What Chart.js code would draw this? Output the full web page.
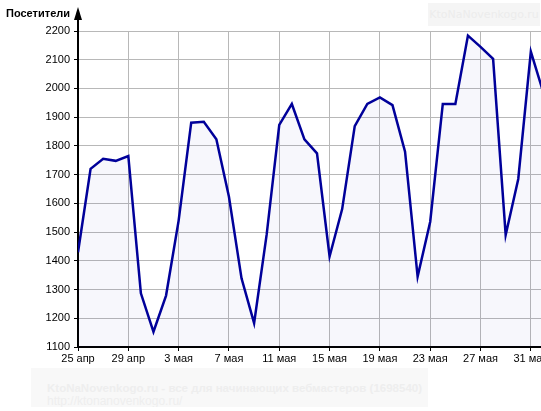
<!DOCTYPE html>
<html>
<head>
<meta charset="utf-8">
<script src="https://cdn.jsdelivr.net/npm/chart.js@4.4.1/dist/chart.umd.min.js"></script>
<style>
  body { margin: 0; overflow: hidden; background: #fff; width: 541px; height: 411px; position: relative; }
  #wrap { position: absolute; left: 0; top: 0; width: 580px; height: 411px; }
  .mark { position: absolute; font-family: "Liberation Sans", Arial, sans-serif; white-space: nowrap; }
  #markTop { left: 428px; top: 3px; width: 112px; height: 23px; background: #f5f5f5; color: #ececec;
             font-family: "DejaVu Sans", Verdana, sans-serif; font-size: 11px; line-height: 23px; text-align: center; }
  #markBottom { left: 31px; top: 368px; width: 397px; height: 39px; background: #f8f8f8; color: #eeeeee;
                font-size: 12px; line-height: 13px; padding: 0 0 0 16px; box-sizing: border-box; overflow: hidden; }
  #markBottom b { display: block; margin-top: 14px; font-size: 11.5px; }
</style>
</head>
<body>
<div id="wrap"><canvas id="graph" width="580" height="411"></canvas></div>
<div class="mark" id="markTop">KtoNaNovenkogo.ru</div>
<div class="mark" id="markBottom"><b>KtoNaNovenkogo.ru - все для начинающих вебмастеров (1698540)</b>http://ktonanovenkogo.ru/</div>
<script>
// дни, с 25 апреля по 1 июня
const dates = ["25 апр", "26 апр", "27 апр", "28 апр", "29 апр", "30 апр",
  "1 мая", "2 мая", "3 мая", "4 мая", "5 мая", "6 мая", "7 мая", "8 мая", "9 мая", "10 мая",
  "11 мая", "12 мая", "13 мая", "14 мая", "15 мая", "16 мая", "17 мая", "18 мая", "19 мая", "20 мая",
  "21 мая", "22 мая", "23 мая", "24 мая", "25 мая", "26 мая", "27 мая", "28 мая", "29 мая", "30 мая",
  "31 мая", "1 июн"];
const visitors = [1430, 1720, 1755, 1748, 1765, 1287, 1153, 1279, 1540, 1881, 1884, 1823, 1623, 1339,
  1183, 1492, 1873, 1946, 1823, 1774, 1415, 1580, 1869, 1946, 1969, 1942, 1780, 1345, 1536, 1946,
  1946, 2184, 2145, 2103, 1490, 1685, 2128, 1985];
const yTitle = "Посетители";

const axisArrow = {
  id: 'axisArrow',
  afterDraw(chart) {
    const c = chart.ctx;
    const x = chart.chartArea.left;
    const top = chart.chartArea.top;
    c.save();
    c.strokeStyle = '#000';
    c.lineWidth = 2;
    c.beginPath();
    c.moveTo(x, top);
    c.lineTo(x, 16);
    c.stroke();
    c.fillStyle = '#000';
    c.beginPath();
    c.moveTo(x, 7);
    c.lineTo(x - 4, 20);
    c.lineTo(x + 4, 20);
    c.closePath();
    c.fill();
    c.font = 'bold 11px "Liberation Sans", Arial, sans-serif';
    c.textAlign = 'right';
    c.textBaseline = 'middle';
    c.fillText(yTitle, 70, 14);
    c.restore();
  }
};

const ctx = document.getElementById('graph').getContext('2d');
const myChart = new Chart(ctx, {
  type: 'line',
  data: {
    datasets: [{
      data: visitors.map((v, i) => ({ x: i, y: v })),
      borderColor: '#00009a',
      borderWidth: 2.5,
      backgroundColor: 'rgba(40, 40, 180, 0.035)',
      fill: 'start',
      pointRadius: 0,
      tension: 0
    }]
  },
  options: {
    responsive: false,
    animation: false,
    layout: { padding: { top: 31, right: 24, bottom: 0, left: 0 } },
    plugins: { legend: { display: false }, tooltip: { enabled: false } },
    scales: {
      x: {
        type: 'linear',
        min: 0,
        max: 38,
        afterFit: s => { s.height = 64; },
        border: { color: '#000', width: 2 },
        grid: { color: '#b8b8b8', tickColor: '#000', tickLength: 4 },
        ticks: {
          stepSize: 4,
          includeBounds: false,
          padding: 1,
          color: '#000',
          font: { family: '"Liberation Sans", Arial, sans-serif', size: 11 },
          maxRotation: 0,
          callback: v => dates[v]
        }
      },
      y: {
        min: 1100,
        max: 2200,
        afterFit: s => { s.width = 78; },
        border: { color: '#000', width: 2 },
        grid: { color: '#b8b8b8', tickColor: '#000', tickLength: 4 },
        ticks: {
          stepSize: 100,
          padding: 4,
          color: '#000',
          font: { family: '"Liberation Sans", Arial, sans-serif', size: 11 },
          callback: v => String(v)
        }
      }
    }
  },
  plugins: [axisArrow]
});
</script>
</body>
</html>
